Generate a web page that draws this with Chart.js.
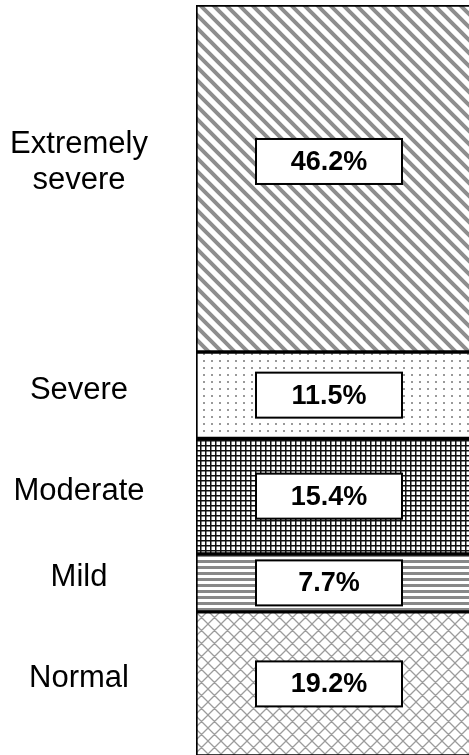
<!DOCTYPE html>
<html>
<head>
<meta charset="utf-8">
<script src="https://cdn.jsdelivr.net/npm/chart.js@4/dist/chart.umd.min.js"></script>
<style>
html,body{margin:0;padding:0;background:#fff;overflow:hidden;width:469px;height:755px;}
canvas{display:block;}
</style>
</head>
<body>
<canvas id="c" width="475" height="760"></canvas>
<script>
// Data (bottom of the stack first)
const categories = ['Normal', 'Mild', 'Moderate', 'Severe', 'Extremely severe'];
const percentValues = [19.2, 7.7, 15.4, 11.5, 46.2];
const valueLabels = ['19.2%', '7.7%', '15.4%', '11.5%', '46.2%'];

const canvas = document.getElementById('c');
const ctx = canvas.getContext('2d');

function tile(w, h, draw) {
  const c = document.createElement('canvas');
  c.width = w; c.height = h;
  const g = c.getContext('2d');
  g.fillStyle = '#fff';
  g.fillRect(0, 0, w, h);
  draw(g, w, h);
  return ctx.createPattern(c, 'repeat');
}

function diag(g, w, h, back, fwd) {
  g.beginPath();
  for (let k = -3; k <= 3; k++) {
    if (back) { g.moveTo(k * w - 2 * w, -2 * h); g.lineTo(k * w + 3 * w, 3 * h); }
    if (fwd) { g.moveTo(k * w + 2 * w, -2 * h); g.lineTo(k * w - 3 * w, 3 * h); }
  }
  g.stroke();
}

const patterns = [
  // Normal: light diamond crosshatch
  tile(13, 13, (g, w, h) => {
    g.strokeStyle = '#9c9c9c'; g.lineWidth = 1.3;
    diag(g, w, h, true, true);
  }),
  // Mild: horizontal gray stripes
  tile(8, 6, (g, w, h) => {
    g.fillStyle = '#888';
    g.fillRect(0, 2, w, 3);
  }),
  // Moderate: dense black grid
  tile(5, 5, (g, w, h) => {
    g.fillStyle = '#111';
    g.fillRect(0, 0, w, 1.5);
    g.fillRect(0, 0, 1.5, h);
  }),
  // Severe: sparse gray dots
  tile(8, 7, (g, w, h) => {
    g.fillStyle = '#999';
    g.fillRect(3, 3, 2, 2);
  }),
  // Extremely severe: gray diagonal stripes (\)
  tile(13, 13, (g, w, h) => {
    g.strokeStyle = '#8e8e8e'; g.lineWidth = 4;
    diag(g, w, h, true, false);
  })
];

const datasets = categories.map((cat, i) => ({
  label: cat,
  data: [percentValues[i]],
  backgroundColor: patterns[i],
  borderColor: '#000',
  borderWidth: 2,
  borderSkipped: false,
  barPercentage: 1,
  categoryPercentage: 1
}));

const FONT = '"Liberation Sans", Arial, Helvetica, sans-serif';

const labelPlugin = {
  id: 'segLabels',
  afterDatasetsDraw(chart) {
    const c = chart.ctx;
    c.save();
    chart.data.datasets.forEach((ds, i) => {
      const el = chart.getDatasetMeta(i).data[0];
      let mid = (el.y + el.base) / 2;
      const isTop = i === chart.data.datasets.length - 1;
      if (isTop) mid -= 17;
      // value box
      const bx = el.x - 6.5, bw = 146, bh = 45;
      c.fillStyle = '#fff';
      c.fillRect(bx - bw / 2, mid - bh / 2, bw, bh);
      c.strokeStyle = '#000';
      c.lineWidth = 2;
      c.strokeRect(bx - bw / 2, mid - bh / 2, bw, bh);
      c.fillStyle = '#000';
      c.font = 'bold 27px ' + FONT;
      c.textAlign = 'center';
      c.textBaseline = 'middle';
      c.fillText(valueLabels[i], bx, mid + 1);
      // category label on the left
      c.font = '31px ' + FONT;
      const lx = 79;
      const words = ds.label === 'Extremely severe' ? ['Extremely', 'severe'] : [ds.label];
      const lh = 36;
      const ly = mid - (isTop ? 0 : 6);
      words.forEach((w, j) => {
        c.fillText(w, lx, ly + (j - (words.length - 1) / 2) * lh + 1);
      });
    });
    c.restore();
  }
};

new Chart(ctx, {
  type: 'bar',
  data: { labels: [''], datasets },
  options: {
    responsive: false,
    animation: false,
    layout: { padding: { top: 5, bottom: 4, left: 196, right: 0 } },
    plugins: { legend: { display: false }, tooltip: { enabled: false } },
    scales: {
      x: { stacked: true, display: false },
      y: { stacked: true, display: false, min: 0, max: 100 }
    }
  },
  plugins: [labelPlugin]
});
</script>
</body>
</html>
